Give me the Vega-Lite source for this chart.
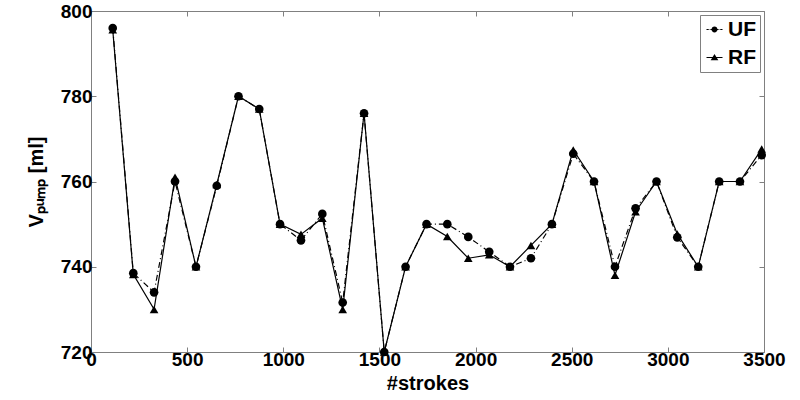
{
  "$schema": "https://vega.github.io/schema/vega-lite/v6.json",
  "autosize": "none",
  "width": 673,
  "height": 341,
  "padding": {"left": 91, "top": 11, "right": 36, "bottom": 48},
  "background": "white",
  "config": {
    "view": {"stroke": "#808080", "strokeWidth": 1},
    "font": "Liberation Sans",
    "axis": {
      "labelFont": "Liberation Sans",
      "labelFontWeight": "bold",
      "labelFontSize": 19,
      "labelColor": "black",
      "labelFlush": false,
      "format": "d",
      "titleFont": "Liberation Sans",
      "titleFontWeight": "bold",
      "titleFontSize": 20,
      "titleColor": "black",
      "grid": false,
      "domain": false,
      "tickColor": "#808080",
      "tickSize": -5,
      "ticks": true
    }
  },
  "data": {
    "values": [
      {"strokes": 113, "v": 796, "series": "UF"}, {"strokes": 113, "v": 795.6, "series": "RF"},
      {"strokes": 220, "v": 738.5, "series": "UF"}, {"strokes": 220, "v": 738.2, "series": "RF"},
      {"strokes": 328, "v": 734, "series": "UF"}, {"strokes": 328, "v": 730, "series": "RF"},
      {"strokes": 437, "v": 760, "series": "UF"}, {"strokes": 437, "v": 761, "series": "RF"},
      {"strokes": 546, "v": 740, "series": "UF"}, {"strokes": 546, "v": 740, "series": "RF"},
      {"strokes": 654, "v": 759, "series": "UF"}, {"strokes": 654, "v": 759.3, "series": "RF"},
      {"strokes": 767, "v": 780, "series": "UF"}, {"strokes": 767, "v": 780, "series": "RF"},
      {"strokes": 875, "v": 777, "series": "UF"}, {"strokes": 875, "v": 777, "series": "RF"},
      {"strokes": 983, "v": 750, "series": "UF"}, {"strokes": 983, "v": 750, "series": "RF"},
      {"strokes": 1092, "v": 746.2, "series": "UF"}, {"strokes": 1092, "v": 747.6, "series": "RF"},
      {"strokes": 1203, "v": 752.4, "series": "UF"}, {"strokes": 1203, "v": 751.4, "series": "RF"},
      {"strokes": 1309, "v": 731.6, "series": "UF"}, {"strokes": 1309, "v": 730, "series": "RF"},
      {"strokes": 1420, "v": 776, "series": "UF"}, {"strokes": 1420, "v": 776, "series": "RF"},
      {"strokes": 1525, "v": 720, "series": "UF"}, {"strokes": 1525, "v": 720, "series": "RF"},
      {"strokes": 1636, "v": 740, "series": "UF"}, {"strokes": 1636, "v": 740, "series": "RF"},
      {"strokes": 1745, "v": 750, "series": "UF"}, {"strokes": 1745, "v": 750, "series": "RF"},
      {"strokes": 1853, "v": 750, "series": "UF"}, {"strokes": 1853, "v": 747.1, "series": "RF"},
      {"strokes": 1962, "v": 747, "series": "UF"}, {"strokes": 1962, "v": 742, "series": "RF"},
      {"strokes": 2071, "v": 743.5, "series": "UF"}, {"strokes": 2071, "v": 742.8, "series": "RF"},
      {"strokes": 2179, "v": 740, "series": "UF"}, {"strokes": 2179, "v": 740, "series": "RF"},
      {"strokes": 2288, "v": 742, "series": "UF"}, {"strokes": 2288, "v": 745, "series": "RF"},
      {"strokes": 2397, "v": 750, "series": "UF"}, {"strokes": 2397, "v": 750, "series": "RF"},
      {"strokes": 2508, "v": 766.5, "series": "UF"}, {"strokes": 2508, "v": 767.4, "series": "RF"},
      {"strokes": 2616, "v": 760, "series": "UF"}, {"strokes": 2616, "v": 760, "series": "RF"},
      {"strokes": 2725, "v": 740, "series": "UF"}, {"strokes": 2725, "v": 738, "series": "RF"},
      {"strokes": 2832, "v": 753.7, "series": "UF"}, {"strokes": 2832, "v": 752.9, "series": "RF"},
      {"strokes": 2941, "v": 760, "series": "UF"}, {"strokes": 2941, "v": 760, "series": "RF"},
      {"strokes": 3049, "v": 746.9, "series": "UF"}, {"strokes": 3049, "v": 747.7, "series": "RF"},
      {"strokes": 3158, "v": 740, "series": "UF"}, {"strokes": 3158, "v": 740, "series": "RF"},
      {"strokes": 3267, "v": 760, "series": "UF"}, {"strokes": 3267, "v": 760, "series": "RF"},
      {"strokes": 3375, "v": 760, "series": "UF"}, {"strokes": 3375, "v": 760, "series": "RF"},
      {"strokes": 3488, "v": 766.2, "series": "UF"}, {"strokes": 3488, "v": 767.6, "series": "RF"}
    ]
  },
  "resolve": {"axis": {"x": "independent", "y": "independent"}},
  "layer": [
    {
      "transform": [{"filter": "datum.series === 'RF'"}],
      "mark": {"type": "line", "color": "black", "strokeWidth": 1.2},
      "encoding": {
        "x": {"field": "strokes", "type": "quantitative", "scale": {"domain": [0, 3500], "nice": false},
              "axis": {"orient": "top", "labels": false, "title": null, "values": [0, 500, 1000, 1500, 2000, 2500, 3000, 3500]}},
        "y": {"field": "v", "type": "quantitative", "scale": {"domain": [720, 800], "nice": false, "zero": false},
              "axis": {"orient": "right", "labels": false, "title": null, "values": [720, 740, 760, 780, 800]}}
      }
    },
    {
      "transform": [{"filter": "datum.series === 'UF'"}],
      "mark": {"type": "line", "color": "black", "strokeWidth": 1.2, "strokeDash": [6, 3, 1, 3]},
      "encoding": {
        "x": {"field": "strokes", "type": "quantitative", "axis": null},
        "y": {"field": "v", "type": "quantitative", "axis": null}
      }
    },
    {
      "transform": [{"filter": "datum.series === 'RF'"}],
      "mark": {"type": "point", "shape": "triangle-up", "filled": true, "color": "black", "opacity": 1, "size": 75},
      "encoding": {
        "x": {"field": "strokes", "type": "quantitative", "axis": null},
        "y": {"field": "v", "type": "quantitative", "axis": null}
      }
    },
    {
      "transform": [{"filter": "datum.series === 'UF'"}],
      "mark": {"type": "point", "shape": "circle", "filled": true, "color": "black", "opacity": 1, "size": 75},
      "encoding": {
        "x": {"field": "strokes", "type": "quantitative",
              "axis": {"orient": "bottom", "title": "#strokes", "titlePadding": 4, "labelPadding": 3,
                       "values": [0, 500, 1000, 1500, 2000, 2500, 3000, 3500]}},
        "y": {"field": "v", "type": "quantitative",
              "axis": {"orient": "left", "title": "Vₚᵤₘₚ [ml]", "titlePadding": 14, "labelPadding": 4,
                       "values": [720, 740, 760, 780, 800]}}
      }
    },
    {
      "transform": [{"filter": "datum.strokes === 113"}],
      "mark": {"type": "point", "filled": true, "color": "black", "opacity": 0, "size": 256},
      "encoding": {
        "x": {"field": "strokes", "type": "quantitative", "axis": null},
        "y": {"field": "v", "type": "quantitative", "axis": null},
        "shape": {"field": "series", "type": "nominal",
                  "scale": {"domain": ["UF", "RF"], "range": [
                    "M-1,-0.07L-0.72,-0.07L-0.72,0.07L-1,0.07ZM-0.6,-0.07L-0.5,-0.07L-0.5,0.07L-0.6,0.07ZM0.5,-0.07L0.6,-0.07L0.6,0.07L0.5,0.07ZM0.72,-0.07L1,-0.07L1,0.07L0.72,0.07ZM-0.45,-0.07L0.45,-0.07L0.45,0.07L-0.45,0.07ZM0.37,0A0.37,0.37,0,1,1,-0.37,0A0.37,0.37,0,1,1,0.37,0Z",
                    "M-1,-0.07L1,-0.07L1,0.07L-1,0.07ZM0,-0.45L0.48,0.33L-0.48,0.33Z"]},
                  "legend": {
                    "title": null,
                    "orient": "top-right",
                    "offset": 4,
                    "padding": 4,
                    "fillColor": "white",
                    "strokeColor": "#808080",
                    "labelFont": "Liberation Sans",
                    "labelFontWeight": "bold",
                    "labelFontSize": 21,
                    "labelColor": "black",
                    "symbolSize": 256,
                    "symbolOpacity": 1,
                    "symbolFillColor": "black",
                    "rowPadding": 6,
                    "labelOffset": 3
                  }}
      }
    }
  ]
}
